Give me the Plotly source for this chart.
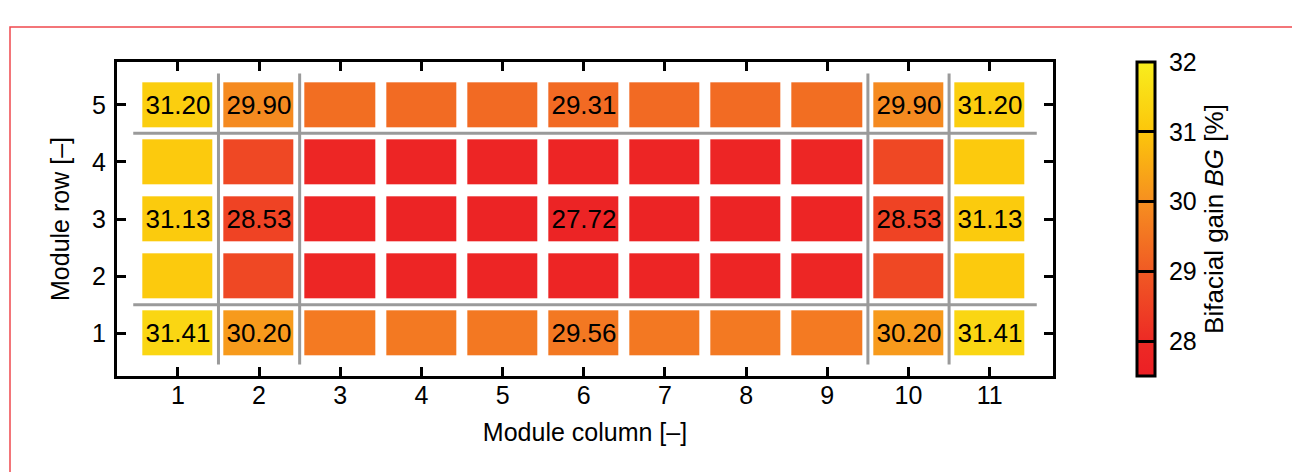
import plotly.graph_objects as go

# ---- data ----
columns = [1, 2, 3, 4, 5, 6, 7, 8, 9, 10, 11]
rows = [1, 2, 3, 4, 5]

# bifacial gain [%] per row (row 1 .. row 5), per column 1..11
bg_row1 = [31.41, 30.20, 29.60, 29.58, 29.56, 29.56, 29.56, 29.58, 29.60, 30.20, 31.41]
bg_row2 = [31.10, 28.62, 27.82, 27.78, 27.76, 27.76, 27.76, 27.78, 27.82, 28.62, 31.10]
bg_row3 = [31.13, 28.53, 27.78, 27.74, 27.72, 27.72, 27.72, 27.74, 27.78, 28.53, 31.13]
bg_row4 = [31.10, 28.62, 27.82, 27.78, 27.76, 27.76, 27.76, 27.78, 27.82, 28.62, 31.10]
bg_row5 = [31.20, 29.90, 29.38, 29.33, 29.31, 29.31, 29.31, 29.33, 29.38, 29.90, 31.20]

# labels shown on selected tiles
lbl_row1 = ["31.41", "30.20", "", "", "", "29.56", "", "", "", "30.20", "31.41"]
lbl_row2 = ["", "", "", "", "", "", "", "", "", "", ""]
lbl_row3 = ["31.13", "28.53", "", "", "", "27.72", "", "", "", "28.53", "31.13"]
lbl_row4 = ["", "", "", "", "", "", "", "", "", "", ""]
lbl_row5 = ["31.20", "29.90", "", "", "", "29.31", "", "", "", "29.90", "31.20"]

cbar_ticks = [28, 29, 30, 31, 32]
cbar_ticktext = ["28", "29", "30", "31", "32"]
cmin, cmax = 27.5, 32.0

z = [bg_row1, bg_row2, bg_row3, bg_row4, bg_row5]
labels = [lbl_row1, lbl_row2, lbl_row3, lbl_row4, lbl_row5]

def norm(v):
    return (v - cmin) / (cmax - cmin)

colorscale = [
    [norm(27.5), "#ec1f25"],
    [norm(28.0), "#ed2a25"],
    [norm(29.0), "#f05a24"],
    [norm(30.0), "#f68f20"],
    [norm(31.0), "#fcc60b"],
    [norm(32.0), "#f8ee1e"],
]

FONT = "Liberation Sans, Arial, Helvetica, sans-serif"

# plot area in figure pixels (page adds an 8 px body margin)
W, H = 1292, 464
L, T, PW, PH = 109, 54, 936, 314

fig = go.Figure()
fig.add_trace(go.Heatmap(
    x=columns, y=rows, z=z,
    text=labels, texttemplate="%{text}",
    textfont=dict(family=FONT, size=26, color="black"),
    colorscale=colorscale, zmin=cmin, zmax=cmax,
    xgap=11, ygap=12,
    hoverinfo="skip",
    colorbar=dict(
        x=1.0897, xanchor="left", xpad=0,
        y=0.5, yanchor="middle", len=1.0, lenmode="fraction", ypad=0,
        thickness=18, thicknessmode="pixels",
        outlinewidth=3, outlinecolor="black",
        tickmode="array", tickvals=cbar_ticks,
        ticktext=["\u00a0" + t for t in cbar_ticktext],
        ticks="inside", ticklen=18, tickwidth=3, tickcolor="black",
        tickfont=dict(family=FONT, size=25, color="black"),
        title=dict(text="Bifacial gain <i>BG</i> [%]", side="right",
                   font=dict(family=FONT, size=26, color="black")),
    ),
))

# grey separators between module groups
vsep = [1.5, 2.5, 9.5, 10.5]
hsep = [1.5, 4.5]
for xv in vsep:
    fig.add_shape(type="line", xref="x", yref="y", x0=xv, x1=xv, y0=0.45, y1=5.55,
                  line=dict(color="#9a9a9a", width=3), layer="above")
for yv in hsep:
    fig.add_shape(type="line", xref="x", yref="y", x0=0.45, x1=11.58, y0=yv, y1=yv,
                  line=dict(color="#9a9a9a", width=3), layer="above")

# thin red frame around the figure
fig.add_shape(type="rect", xref="paper", yref="paper",
              x0=(2 - L) / PW, x1=(1285 - L) / PW,
              y0=(T + PH - 490) / PH, y1=(T + PH - 19) / PH,
              line=dict(color="#f0484e", width=1.5), fillcolor="rgba(0,0,0,0)")

axis_common = dict(
    showline=True, linewidth=3, linecolor="black", mirror="ticks",
    ticks="inside", ticklen=9, tickwidth=3, tickcolor="black",
    showgrid=False, zeroline=False,
    tickfont=dict(family=FONT, size=25, color="black"),
    title_font=dict(family=FONT, size=25, color="black"),
)

fig.update_xaxes(range=[0.25, 11.78], tickmode="array", tickvals=columns,
                 ticklabelstandoff=-5,
                 title=dict(text="Module column [–]", standoff=16), **axis_common)
fig.update_yaxes(range=[0.25, 5.75], tickmode="array", tickvals=rows,
                 ticklabelstandoff=3,
                 title=dict(text="Module row [–]", standoff=16), **axis_common)

fig.update_layout(
    width=W, height=H,
    margin=dict(l=L, r=W - L - PW, t=T, b=H - T - PH, autoexpand=False),
    paper_bgcolor="white", plot_bgcolor="white",
    font=dict(family=FONT, color="black"),
    showlegend=False,
)

fig.write_html("out.html")
